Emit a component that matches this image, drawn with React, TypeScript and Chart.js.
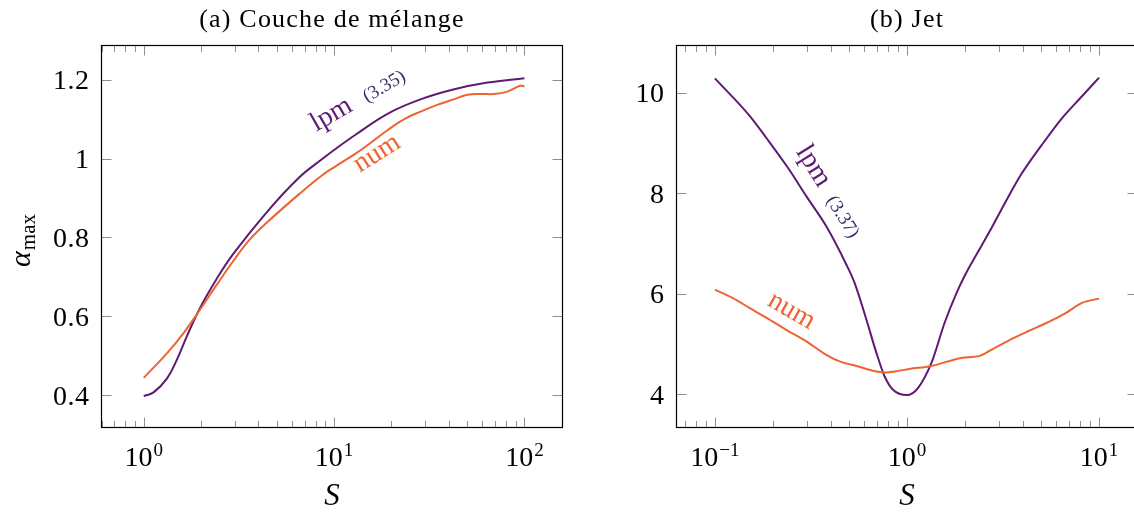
import React, { useEffect, useRef } from "react";
import { Chart, registerables } from "chart.js";

Chart.register(...registerables);

const LPM_COLOR = "#5f1a73";
const NUM_COLOR = "#ee6331";
const REF_COLOR = "#3d2b68";
const TICK_COLOR = "#8f8f8f";

// ---------- (a) Couche de mélange ----------
const mixLpmS = [1, 1.127, 1.323, 1.49, 1.68, 1.97, 2.41, 2.94, 4.39, 6.55, 8.66, 10, 12.9, 19.3, 28.7, 42.8, 64, 100];
const mixLpmAlpha = [0.398, 0.407, 0.442, 0.489, 0.548, 0.62, 0.694, 0.757, 0.862, 0.952, 0.999, 1.022, 1.06, 1.115, 1.151, 1.176, 1.193, 1.204];
const mixNumS = [1, 1.323, 1.615, 1.97, 2.41, 2.94, 3.59, 4.39, 6.55, 8.66, 10, 12.9, 14.6, 19.3, 23.5, 28.7, 35.1, 42.8, 50.2, 59, 69.2, 81.3, 95, 100];
const mixNumAlpha = [0.444, 0.506, 0.557, 0.616, 0.679, 0.739, 0.794, 0.836, 0.91, 0.958, 0.978, 1.012, 1.03, 1.074, 1.101, 1.12, 1.137, 1.151, 1.162, 1.164, 1.164, 1.17, 1.185, 1.183];
const mixYTicks = [0.4, 0.6, 0.8, 1, 1.2];
const mixYTickLabels = ["0.4", "0.6", "0.8", "1", "1.2"];
const mixXDecades = [0, 1, 2];

// ---------- (b) Jet ----------
const jetLpmS = [0.1, 0.152, 0.185, 0.24, 0.299, 0.38, 0.483, 0.534, 0.615, 0.693, 0.765, 0.846, 1.0, 1.14, 1.34, 1.57, 1.81, 2.0, 2.44, 2.75, 3.23, 3.94, 5.01, 6.37, 8.1, 10];
const jetLpmAlpha = [10.285, 9.534, 9.103, 8.505, 7.94, 7.34, 6.58, 6.21, 5.48, 4.82, 4.35, 4.086, 3.98, 4.12, 4.62, 5.42, 6.01, 6.36, 6.95, 7.3, 7.8, 8.38, 8.95, 9.48, 9.92, 10.3];
const jetNumS = [0.1, 0.124, 0.152, 0.185, 0.235, 0.299, 0.38, 0.446, 0.545, 0.693, 0.781, 0.863, 1.03, 1.34, 1.92, 2.39, 2.75, 3.36, 4.27, 5.42, 6.63, 8.1, 10];
const jetNumAlpha = [6.08, 5.91, 5.71, 5.52, 5.28, 5.05, 4.78, 4.65, 4.56, 4.45, 4.43, 4.45, 4.5, 4.56, 4.72, 4.76, 4.88, 5.06, 5.25, 5.43, 5.6, 5.81, 5.9];
const jetYTicks = [4, 6, 8, 10];
const jetYTickLabels = ["4", "6", "8", "10"];
const jetXDecades = [-1, 0, 1];

function pickSerif(): string {
  const c = document.createElement("canvas").getContext("2d") as CanvasRenderingContext2D;
  const sample = "Couche de mélange 0123456789 lpm";
  c.font = "40px monospace";
  const base = c.measureText(sample).width;
  for (const f of ["Liberation Serif", "DejaVu Serif", "Noto Serif"]) {
    c.font = `40px "${f}", monospace`;
    if (Math.abs(c.measureText(sample).width - base) > 0.5) return `"${f}", serif`;
  }
  return "serif";
}

type Part = { text: string; font: string; color: string; dx?: number; dy?: number };
type CurveLabel = { s: number; v: number; angle: number; parts: Part[] };

type PanelCfg = {
  title: string;
  yTicks: number[];
  yTickLabels: string[];
  xDecades: number[];
  yTitle: boolean;
  labels: CurveLabel[];
  font: string;
};

function toPoints(xs: number[], ys: number[]) {
  return xs.map((x, i) => ({ x, y: ys[i] }));
}

function drawParts(ctx: CanvasRenderingContext2D, x: number, y: number, angleDeg: number, parts: Part[], center = false) {
  ctx.save();
  ctx.translate(x, y);
  ctx.rotate((angleDeg * Math.PI) / 180);
  ctx.textAlign = "left";
  ctx.textBaseline = "alphabetic";
  let total = 0;
  for (const p of parts) {
    ctx.font = p.font;
    total += ctx.measureText(p.text).width + (p.dx || 0);
  }
  let cx = center ? -total / 2 : 0;
  for (const p of parts) {
    ctx.font = p.font;
    ctx.fillStyle = p.color;
    cx += p.dx || 0;
    ctx.fillText(p.text, cx, p.dy || 0);
    cx += ctx.measureText(p.text).width;
  }
  ctx.restore();
}

function framePlugin(cfg: PanelCfg) {
  const F = cfg.font;
  return {
    id: "frame",
    afterDatasetsDraw(chart: any) {
      const ctx: CanvasRenderingContext2D = chart.ctx;
      const { left, right, top, bottom } = chart.chartArea;
      const xs = chart.scales.x;
      const ys = chart.scales.y;
      const MAJOR = 10;
      const MINOR = 6.5;
      ctx.save();
      ctx.strokeStyle = TICK_COLOR;
      ctx.lineWidth = 1;
      ctx.beginPath();
      const lo = Math.floor(Math.log10(xs.min)) - 1;
      const hi = Math.ceil(Math.log10(xs.max)) + 1;
      for (let d = lo; d <= hi; d++) {
        for (let m = 1; m <= 9; m++) {
          const v = m * Math.pow(10, d);
          if (v <= xs.min || v >= xs.max) continue;
          const len = m === 1 ? MAJOR : MINOR;
          const px = Math.round(xs.getPixelForValue(v)) + 0.5;
          ctx.moveTo(px, bottom);
          ctx.lineTo(px, bottom - len);
          ctx.moveTo(px, top);
          ctx.lineTo(px, top + len);
        }
      }
      for (const t of cfg.yTicks) {
        const py = Math.round(ys.getPixelForValue(t)) + 0.5;
        ctx.moveTo(left, py);
        ctx.lineTo(left + MAJOR, py);
        ctx.moveTo(right, py);
        ctx.lineTo(right - MAJOR, py);
      }
      ctx.stroke();

      ctx.strokeStyle = "#000";
      ctx.lineWidth = 1.2;
      ctx.strokeRect(left, top, right - left, bottom - top);

      // y tick labels
      ctx.fillStyle = "#000";
      ctx.font = `28px ${F}`;
      ctx.textAlign = "right";
      ctx.textBaseline = "alphabetic";
      (ctx as any).letterSpacing = "0.5px";
      cfg.yTicks.forEach((t, i) => {
        const py = ys.getPixelForValue(t);
        ctx.fillText(cfg.yTickLabels[i], left - 12, py + 9.5);
      });
      (ctx as any).letterSpacing = "0px";

      // x tick labels 10^k
      for (const d of cfg.xDecades) {
        const px = xs.getPixelForValue(Math.pow(10, d));
        const sup = d < 0 ? "\u2212" + String(-d) : String(d);
        ctx.font = `28px ${F}`;
        const w1 = ctx.measureText("10").width;
        ctx.font = `19px ${F}`;
        const w2 = ctx.measureText(sup).width;
        const x0 = px - (w1 + w2 + 1) / 2;
        ctx.textAlign = "left";
        ctx.font = `28px ${F}`;
        ctx.fillText("10", x0, 466);
        ctx.font = `19px ${F}`;
        ctx.fillText(sup, x0 + w1 + 1, 456);
      }

      // title
      ctx.textAlign = "center";
      ctx.font = `26px ${F}`;
      (ctx as any).letterSpacing = "1.2px";
      ctx.fillText(cfg.title, (left + right) / 2, 26.5);
      (ctx as any).letterSpacing = "0px";

      // x axis title
      ctx.font = `italic 31px ${F}`;
      ctx.fillText("S", (left + right) / 2, 505);

      // y axis title
      if (cfg.yTitle) {
        drawParts(
          ctx,
          30,
          (top + bottom) / 2 + 4,
          -90,
          [
            { text: "\u03b1", font: `italic 30px ${F}`, color: "#000" },
            { text: "max", font: `21px ${F}`, color: "#000", dx: 1, dy: 5 },
          ],
          true
        );
      }

      // curve labels
      for (const lab of cfg.labels) {
        const px = xs.getPixelForValue(lab.s);
        const py = ys.getPixelForValue(lab.v);
        drawParts(ctx, px, py, lab.angle, lab.parts);
      }
      ctx.restore();
    },
  };
}

function makeConfig(
  lpmS: number[],
  lpmV: number[],
  numS: number[],
  numV: number[],
  xRange: [number, number],
  yRange: [number, number],
  padding: { left: number; right: number; top: number; bottom: number },
  smooth: boolean,
  cfg: PanelCfg
): any {
  const interp = smooth
    ? { cubicInterpolationMode: "default", tension: 0.4 }
    : { cubicInterpolationMode: "monotone" };
  return {
    type: "scatter",
    data: {
      datasets: [
        {
          data: toPoints(numS, numV),
          showLine: true,
          borderColor: NUM_COLOR,
          borderWidth: 2,
          pointRadius: 0,
          fill: false,
          ...interp,
        },
        {
          data: toPoints(lpmS, lpmV),
          showLine: true,
          borderColor: LPM_COLOR,
          borderWidth: 2,
          pointRadius: 0,
          fill: false,
          ...interp,
        },
      ],
    },
    options: {
      animation: false,
      responsive: false,
      maintainAspectRatio: false,
      events: [],
      layout: { padding },
      plugins: {
        legend: { display: false },
        tooltip: { enabled: false },
        title: { display: false },
      },
      scales: {
        x: { type: "logarithmic", min: xRange[0], max: xRange[1], display: false },
        y: { type: "linear", min: yRange[0], max: yRange[1], display: false },
      },
    },
    plugins: [framePlugin(cfg)],
  };
}

export default function App() {
  const refA = useRef<HTMLCanvasElement>(null);
  const refB = useRef<HTMLCanvasElement>(null);

  useEffect(() => {
    const F = pickSerif();
    const cfgA: PanelCfg = {
      title: "(a) Couche de mélange",
      yTicks: mixYTicks,
      yTickLabels: mixYTickLabels,
      xDecades: mixXDecades,
      yTitle: true,
      font: F,
      labels: [
        {
          s: 8.06,
          v: 1.068,
          angle: -30,
          parts: [
            { text: "lpm", font: `28px ${F}`, color: LPM_COLOR },
            { text: "(3.35)", font: `19px ${F}`, color: REF_COLOR, dx: 15 },
          ],
        },
        {
          s: 13.66,
          v: 0.964,
          angle: -32,
          parts: [{ text: "num", font: `28px ${F}`, color: NUM_COLOR }],
        },
      ],
    };
    const cfgB: PanelCfg = {
      title: "(b) Jet",
      yTicks: jetYTicks,
      yTickLabels: jetYTickLabels,
      xDecades: jetXDecades,
      yTitle: false,
      font: F,
      labels: [
        {
          s: 0.263,
          v: 8.83,
          angle: 58,
          parts: [
            { text: "lpm", font: `28px ${F}`, color: LPM_COLOR },
            { text: "(3.37)", font: `19px ${F}`, color: REF_COLOR, dx: 14 },
          ],
        },
        {
          s: 0.185,
          v: 5.78,
          angle: 30,
          parts: [{ text: "num", font: `28px ${F}`, color: NUM_COLOR }],
        },
      ],
    };
    const a = new Chart(
      refA.current as HTMLCanvasElement,
      makeConfig(
        mixLpmS,
        mixLpmAlpha,
        mixNumS,
        mixNumAlpha,
        [Math.pow(10, -0.2), Math.pow(10, 2.2)],
        [0.318, 1.287],
        { left: 101.5, right: 7.5, top: 45.5, bottom: 88.5 },
        true,
        cfgA
      )
    );
    const b = new Chart(
      refB.current as HTMLCanvasElement,
      makeConfig(
        jetLpmS,
        jetLpmAlpha,
        jetNumS,
        jetNumAlpha,
        [Math.pow(10, -1.2), Math.pow(10, 1.2)],
        [3.334, 10.94],
        { left: 106.5, right: 12.5, top: 45.5, bottom: 88.5 },
        false,
        cfgB
      )
    );
    return () => {
      a.destroy();
      b.destroy();
    };
  }, []);

  return (
    <div
      style={{
        position: "fixed",
        left: 0,
        top: 0,
        width: 1134,
        height: 516,
        overflow: "hidden",
        background: "#fff",
      }}
    >
      <canvas ref={refA} width={570} height={516} style={{ position: "absolute", left: 0, top: 0 }} />
      <canvas ref={refB} width={580} height={516} style={{ position: "absolute", left: 570, top: 0 }} />
    </div>
  );
}
